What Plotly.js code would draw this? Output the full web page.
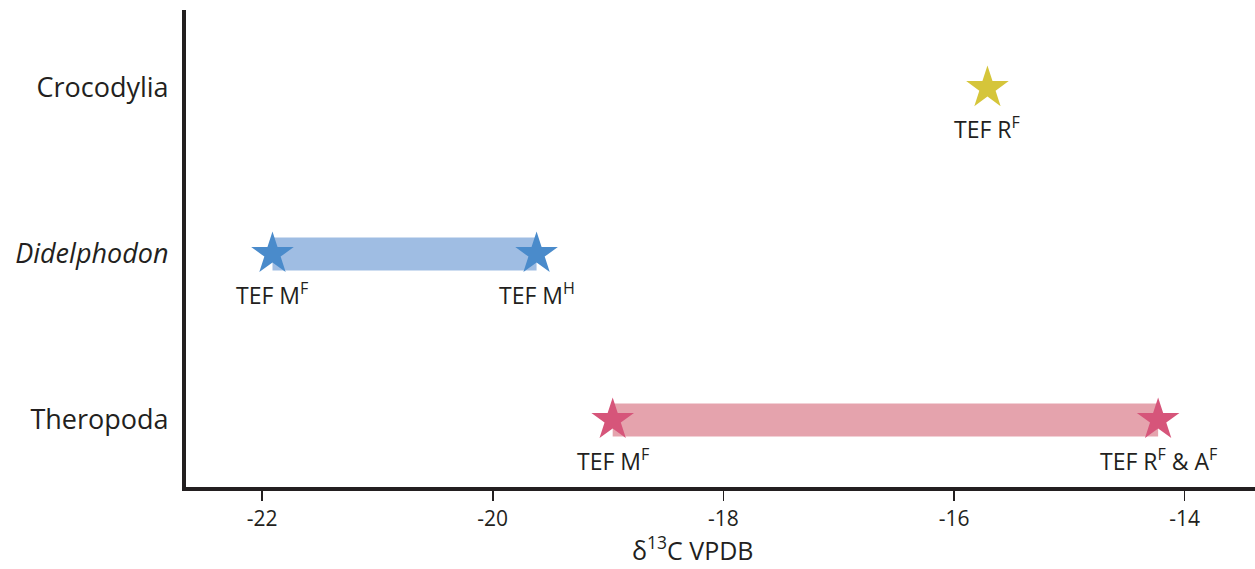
<!DOCTYPE html>
<html>
<head>
<meta charset="utf-8">
<script src="https://cdn.plot.ly/plotly-3.0.1.min.js"></script>
<style>
  html, body { margin: 0; padding: 0; background: #ffffff; }
  #chart { width: 1255px; height: 569px; }
</style>
</head>
<body>
<div id="chart"></div>
<script>
// Taxa on the y axis (bottom to top) and their tick labels
const taxa = ['Theropoda', 'Didelphodon', 'Crocodylia'];
const taxaLabels = ['Theropoda', '<i>Didelphodon</i>', 'Crocodylia'];

// δ13C estimates (‰ VPDB) for each taxon, with the TEF used for each
const crocX = [-15.71];
const crocTEF = ['TEF R<sup>F</sup>'];

const didelX = [-21.91, -19.62];
const didelTEF = ['TEF M<sup>F</sup>', 'TEF M<sup>H</sup>'];

const theroX = [-18.96, -14.23];
const theroTEF = ['TEF M<sup>F</sup>', 'TEF R<sup>F</sup> &amp; A<sup>F</sup>'];

// x-axis ticks and title
const xTicks = [-22, -20, -18, -16, -14];
const xTickText = ['-22', '-20', '-18', '-16', '-14'];
const xTitle = 'δ<sup>13</sup>C VPDB';

const groups = [
  { name: 'Crocodylia', x: crocX, tef: crocTEF, star: '#d5c53a', band: '#ece39a' },
  { name: 'Didelphodon', x: didelX, tef: didelTEF, star: '#4a8bcb', band: '#9fbde3' },
  { name: 'Theropoda', x: theroX, tef: theroTEF, star: '#d6557a', band: '#e5a3ad' }
];

const font = '"Open Sans", "Noto Sans", sans-serif';
const ink = '#231f20';

const traces = [];
const annotations = [];

groups.forEach(g => {
  const ys = g.x.map(() => g.name);
  // shaded band spanning the range of estimates
  if (g.x.length > 1) {
    traces.push({
      type: 'scatter', mode: 'lines',
      x: [Math.min(...g.x), Math.max(...g.x)],
      y: [g.name, g.name],
      line: { color: g.band, width: 33 },
      hoverinfo: 'skip', showlegend: false
    });
  }
  // one star per estimate
  traces.push({
    type: 'scatter', mode: 'markers',
    x: g.x, y: ys,
    marker: { symbol: 'star', size: 32, color: g.star, line: { width: 0 } },
    showlegend: false
  });
  // TEF label under each star
  g.x.forEach((xv, i) => {
    annotations.push({
      x: xv, y: g.name, xref: 'x', yref: 'y',
      text: g.tef[i], showarrow: false,
      yshift: -40, xanchor: 'center', yanchor: 'middle',
      font: { family: font, size: 23, color: ink }
    });
  });
});

// x-axis title, set slightly left of the axis centre
annotations.push({
  xref: 'paper', yref: 'paper', x: 0.474, y: -0.128,
  xanchor: 'center', yanchor: 'middle',
  text: xTitle, showarrow: false,
  font: { family: font, size: 25, color: ink }
});

const layout = {
  width: 1255, height: 569,
  margin: { l: 186, r: 0, t: 10, b: 82 },
  paper_bgcolor: '#ffffff', plot_bgcolor: '#ffffff',
  showlegend: false,
  xaxis: {
    range: [-22.66, -13.39],
    tickmode: 'array', tickvals: xTicks, ticktext: xTickText,
    ticks: 'outside', ticklen: 10, tickwidth: 1.5, tickcolor: ink,
    showline: true, linecolor: ink, linewidth: 4,
    showgrid: false, zeroline: false,
    tickfont: { family: font, size: 21, color: ink }
  },
  yaxis: {
    type: 'category',
    categoryorder: 'array', categoryarray: taxa,
    range: [-0.404, 2.47],
    tickmode: 'array', tickvals: taxa, ticktext: taxaLabels,
    ticks: '', ticklabelstandoff: 8,
    showline: true, linecolor: ink, linewidth: 4,
    showgrid: false, zeroline: false,
    tickfont: { family: font, size: 27, color: ink }
  },
  annotations: annotations
};

Plotly.newPlot('chart', traces, layout, { displayModeBar: false, staticPlot: true });
</script>
</body>
</html>
